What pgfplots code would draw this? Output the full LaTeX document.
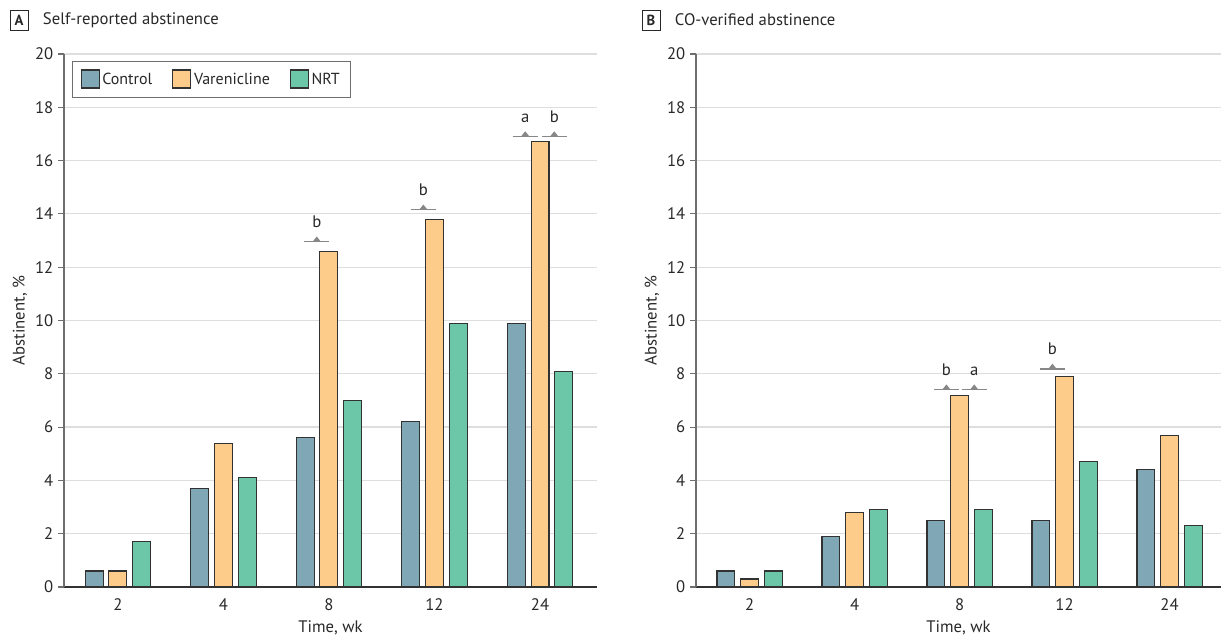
\documentclass[border=0pt]{standalone}
\usepackage{pgfplots}
\pgfplotsset{compat=1.18}
\usepackage{fontspec}
\setmainfont{PT Sans}
\definecolor{cctrl}{RGB}{127,167,182}
\definecolor{cvar}{RGB}{254,204,138}
\definecolor{cnrt}{RGB}{108,198,168}
\definecolor{edge}{RGB}{50,50,50}
\definecolor{sigc}{RGB}{135,135,135}
\definecolor{gridc}{RGB}{222,222,222}
\definecolor{axc}{RGB}{110,110,110}
\definecolor{txt}{RGB}{40,40,40}
\pgfplotsset{
  panel/.style={
    scale only axis, height=399.75pt,
    ymin=0, ymax=20, ytick={0,2,...,20},
    xtick={0,1,2,3,4}, xticklabels={2,4,8,12,24},
    axis x line*=bottom, axis y line*=left,
    x axis line style={edge,line width=0.9pt,-},
    y axis line style={axc,line width=0.8pt,-},
    major x tick style={draw=none},
    major y tick style={axc,line width=0.8pt},
    tick align=outside, major tick length=4.5pt,
    ymajorgrids, grid style={gridc,line width=0.9pt},
    /pgf/number format/assume math mode=true,
    font=\fontsize{12}{14}\selectfont,
    tick label style={text=txt, font=\fontsize{12.5}{14}\selectfont},
    xticklabel style={yshift=-1pt},
    xlabel={Time, wk}, ylabel={Abstinent, \%},
    xlabel style={at={(axis description cs:0.5,0)}, anchor=center, yshift=-31pt, text=txt, font=\fontsize{12.5}{14}\selectfont},
    ylabel style={anchor=center, rotate=0, text=txt, font=\fontsize{12.5}{14}\selectfont},
    every axis plot/.append style={ybar, bar width=0.17, draw=edge, line width=0.8pt,
      legend image code/.code={\draw[##1, line width=0.8pt] (0pt,-6.2pt) rectangle (13.5pt,7.3pt);}},
    clip=false,
  },
}
\begin{document}
\begin{tikzpicture}
\path[use as bounding box] (-48pt,-38.25pt) rectangle (868.5pt,440.25pt);
% Panel A
\begin{axis}[panel, name=A, at={(0pt,0pt)}, anchor=south west, width=399.75pt,
  xmin=-0.51, xmax=4.54,
  every axis y label/.append style={at={(axis description cs:-0.0826,0.5)}},
  legend style={at={(axis description cs:0.015,0.987)}, anchor=north west,
    draw=axc, line width=0.8pt, fill=white, legend columns=3,
    inner xsep=6pt, inner ysep=6pt,
    /tikz/every even column/.append style={column sep=13pt},
    font=\fontsize{12}{14}\selectfont, text=txt},
]
\addplot[fill=cctrl, bar shift=-0.225] coordinates {(0,0.6) (1,3.7) (2,5.6) (3,6.2) (4,9.9)};
\addplot[fill=cvar, bar shift=0] coordinates {(0,0.6) (1,5.4) (2,12.6) (3,13.8) (4,16.7)};
\addplot[fill=cnrt, bar shift=0.225] coordinates {(0,1.7) (1,4.1) (2,7.0) (3,9.9) (4,8.1)};
\legend{Control, Varenicline, NRT}
\coordinate (s1) at (axis cs:1.885,12.95);
\coordinate (s2) at (axis cs:2.895,14.15);
\coordinate (s3) at (axis cs:3.86,16.9);
\coordinate (s4) at (axis cs:4.135,16.9);
\end{axis}
% Panel B
\begin{axis}[panel, name=B, at={(474pt,0pt)}, anchor=south west, width=393.75pt,
  xmin=-0.51, xmax=4.49,
  every axis y label/.append style={at={(axis description cs:-0.0838,0.5)}},
]
\addplot[fill=cctrl, bar shift=-0.225] coordinates {(0,0.6) (1,1.9) (2,2.5) (3,2.5) (4,4.4)};
\addplot[fill=cvar, bar shift=0] coordinates {(0,0.3) (1,2.8) (2,7.2) (3,7.9) (4,5.7)};
\addplot[fill=cnrt, bar shift=0.225] coordinates {(0,0.6) (1,2.9) (2,2.9) (3,4.7) (4,2.3)};
\coordinate (s5) at (axis cs:1.875,7.4);
\coordinate (s6) at (axis cs:2.14,7.4);
\coordinate (s7) at (axis cs:2.885,8.18);
\end{axis}
% significance marks
\foreach \c/\l in {s1/b, s2/b, s3/a, s4/b, s5/b, s6/a, s7/b} {
  \draw[sigc, line width=0.9pt] ([xshift=-9.3pt]\c) -- ([xshift=9.3pt]\c);
  \fill[sigc] ([xshift=-3.2pt]\c) -- ([xshift=3.2pt]\c) -- ([yshift=4pt]\c) -- cycle;
  \node[anchor=base, inner sep=0, yshift=10.5pt, text=txt, font=\fontsize{12.5}{14}\selectfont] at (\c) {\l};
}
% panel titles
\foreach \p/\ttl in {A/Self-reported abstinence, B/CO-verified abstinence} {
  \node[draw=txt, line width=0.6pt, minimum width=13.5pt, minimum height=15pt, inner sep=0,
    font=\bfseries\fontsize{11}{13}\selectfont, text=txt]
    at ([xshift=-33.75pt, yshift=25.5pt]\p.north west) {\p};
  \node[anchor=west, inner sep=0, text=txt, font=\fontsize{12.5}{14}\selectfont]
    at ([xshift=-16pt, yshift=25.5pt]\p.north west) {\ttl};
}
\end{tikzpicture}
\end{document}
